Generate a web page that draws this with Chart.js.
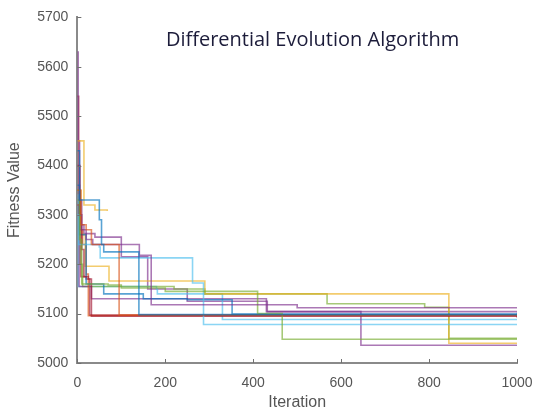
<!DOCTYPE html>
<html>
<head>
<meta charset="utf-8">
<script src="https://cdn.jsdelivr.net/npm/chart.js@4/dist/chart.umd.min.js"></script>
<style>
  html, body { margin: 0; padding: 0; background: #fff; }
  #wrap { width: 536px; height: 412px; }
</style>
</head>
<body>
<div id="wrap"><canvas id="c"></canvas></div>
<script>
// convergence runs: [iteration where the value starts, best fitness]
const blue1 = [[0, 5430], [5, 5330], [45, 5330], [50, 5290], [55, 5240], [60, 5225], [140, 5098], [1000, 5100]];
const orange1 = [[0, 5350], [8, 5280], [20, 5270], [32, 5240], [95, 5097], [1000, 5095]];
const yellow1 = [[0, 5450], [15, 5320], [40, 5310], [68, 5308]];
const purple1 = [[0, 5630], [2, 5450], [5, 5330], [10, 5270], [20, 5250], [35, 5240], [141, 5218], [168, 5118], [500, 5112], [1000, 5111]];
const green1 = [[0, 5350], [5, 5250], [10, 5160], [70, 5158], [100, 5152], [200, 5145], [410, 5100], [466, 5048], [1000, 5048]];
const lightblue1 = [[0, 5300], [3, 5240], [50, 5235], [52, 5213], [262, 5162], [287, 5078], [1000, 5078]];
const darkred1 = [[0, 5540], [3, 5400], [6, 5300], [10, 5230], [15, 5175], [25, 5170], [32, 5095], [1000, 5093]];
const blue2 = [[0, 5360], [5, 5260], [20, 5160], [60, 5140], [150, 5130], [250, 5128], [352, 5099], [1000, 5102]];
const orange2 = [[0, 5320], [5, 5270], [12, 5240], [20, 5180], [25, 5096], [1000, 5094]];
const yellow2 = [[0, 5350], [8, 5260], [18, 5196], [72, 5166], [290, 5140], [845, 5040], [1000, 5040]];
const purple2 = [[0, 5320], [4, 5155], [32, 5130], [430, 5104], [645, 5036], [1000, 5036]];
const green2 = [[0, 5330], [6, 5200], [12, 5155], [220, 5150], [290, 5140], [568, 5120], [790, 5113], [845, 5050], [1000, 5050]];
const lightblue2 = [[0, 5340], [2, 5155], [180, 5150], [182, 5140], [330, 5088], [1000, 5088]];
const darkred2 = [[0, 5400], [3, 5300], [8, 5175], [20, 5170], [28, 5097], [1000, 5092]];
const purple3 = [[0, 5350], [6, 5280], [15, 5262], [40, 5255], [100, 5215], [160, 5150], [250, 5125], [432, 5104], [1000, 5104]];

const runs = [
  [blue1, '0,114,189'], [orange1, '217,83,25'], [yellow1, '237,177,32'], [purple1, '126,47,142'],
  [green1, '119,172,48'], [lightblue1, '77,190,238'], [darkred1, '162,20,47'], [blue2, '0,114,189'],
  [orange2, '217,83,25'], [yellow2, '237,177,32'], [purple2, '126,47,142'], [green2, '119,172,48'],
  [lightblue2, '77,190,238'], [darkred2, '162,20,47'], [purple3, '126,47,142']
];

const xTicks = [0, 200, 400, 600, 800, 1000];
const yTicks = [5000, 5100, 5200, 5300, 5400, 5500, 5600, 5700];

// title sits inside the axes, like matlab's text()
const innerTitle = {
  id: 'innerTitle',
  afterDraw(chart) {
    const { ctx, chartArea } = chart;
    ctx.save();
    ctx.font = '20px "Open Sans", sans-serif';
    ctx.fillStyle = '#1c1c3a';
    ctx.textAlign = 'center';
    ctx.textBaseline = 'middle';
    ctx.fillText('Differential Evolution Algorithm', chartArea.left + chartArea.width * 0.535, chartArea.top + 23);
    // inward tick marks
    ctx.strokeStyle = '#707070';
    ctx.lineWidth = 1;
    const xs = chart.scales.x, ys = chart.scales.y;
    xTicks.forEach(v => {
      const px = Math.round(xs.getPixelForValue(v)) + 0.5;
      ctx.beginPath(); ctx.moveTo(px, chartArea.bottom); ctx.lineTo(px, chartArea.bottom - 4); ctx.stroke();
    });
    yTicks.forEach(v => {
      const py = Math.round(ys.getPixelForValue(v)) + 0.5;
      ctx.beginPath(); ctx.moveTo(chartArea.left, py); ctx.lineTo(chartArea.left + 4, py); ctx.stroke();
    });
    ctx.restore();
  }
};

new Chart(document.getElementById('c'), {
  type: 'line',
  data: {
    datasets: runs.map(([pts, rgb]) => ({
      data: pts.map(([x, y]) => ({ x, y })),
      borderColor: `rgba(${rgb},0.65)`,
      borderWidth: 1.6,
      pointRadius: 0,
      stepped: 'before',
      fill: false
    }))
  },
  options: {
    responsive: true,
    maintainAspectRatio: false,
    animation: false,
    layout: { padding: { top: 8, right: 0, left: 3, bottom: 0 } },
    plugins: {
      legend: { display: false },
      tooltip: { enabled: false }
    },
    scales: {
      x: {
        type: 'linear',
        min: 0,
        max: 1000,
        afterBuildTicks: s => { s.ticks = xTicks.map(v => ({ value: v })); },
        afterFit: s => { s.paddingRight = 19; },
        grid: { display: false, drawTicks: false },
        border: { display: true, color: '#8a8a8a', width: 2 },
        ticks: { color: '#555', font: { size: 14, family: 'Arial, "Liberation Sans"' }, padding: 12, maxRotation: 0, callback: v => String(v) },
        title: { display: true, text: 'Iteration', color: '#555', font: { size: 16, family: 'Arial, "Liberation Sans"' }, padding: { top: -11, bottom: 0 } }
      },
      y: {
        min: 5000,
        max: 5700,
        afterBuildTicks: s => { s.ticks = yTicks.map(v => ({ value: v })); },
        grid: { display: false, drawTicks: false },
        border: { display: true, color: '#8a8a8a', width: 2 },
        ticks: { color: '#555', font: { size: 14, family: 'Arial, "Liberation Sans"' }, padding: 9, callback: v => String(v) },
        title: { display: true, text: 'Fitness Value', color: '#555', font: { size: 16, family: 'Arial, "Liberation Sans"' }, padding: { top: 2, bottom: 4 } }
      }
    }
  },
  plugins: [innerTitle]
});
</script>
</body>
</html>
